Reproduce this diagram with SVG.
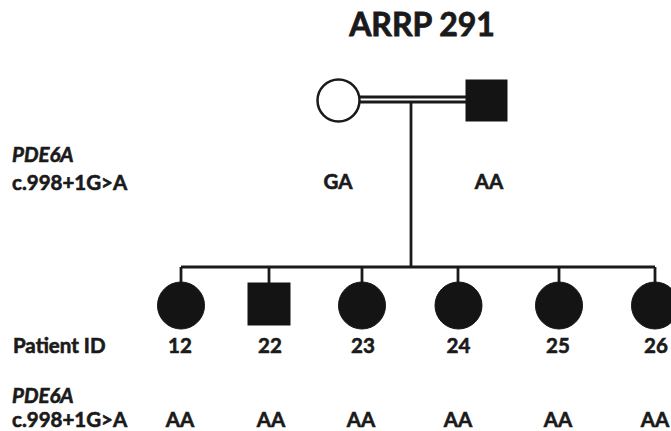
<svg xmlns="http://www.w3.org/2000/svg" width="671" height="431" viewBox="0 0 671 431">
<style>
.t{font-family:Lato,"Open Sans","Liberation Sans",sans-serif;font-weight:bold;fill:#1a1a1a;stroke:#1a1a1a;stroke-width:0.6;font-size:20.5px}
.c{text-anchor:middle}
.i{font-style:italic}
.ln{stroke:#1a1a1a;stroke-width:2.8;fill:none}
.aff{fill:#141414;stroke:#141414;stroke-width:1}
</style>
<rect width="671" height="431" fill="#fff"/>
<text class="t c" x="422" y="36" style="font-size:32px;stroke-width:0.8">ARRP 291</text>
<g id="connectors">
<line class="ln" x1="360" y1="97" x2="466" y2="97" stroke-width="2.2"/>
<line class="ln" x1="360" y1="102" x2="466" y2="102" stroke-width="2.2"/>
<line class="ln" x1="411" y1="102" x2="411" y2="267"/>
<line class="ln" x1="181" y1="267" x2="655" y2="267"/>
<line class="ln" x1="181" y1="267" x2="181" y2="283"/>
<line class="ln" x1="269" y1="267" x2="269" y2="284"/>
<line class="ln" x1="362" y1="267" x2="362" y2="283"/>
<line class="ln" x1="458" y1="267" x2="458" y2="283"/>
<line class="ln" x1="559" y1="267" x2="559" y2="283"/>
<line class="ln" x1="655" y1="267" x2="655" y2="283"/>
</g>
<g id="mother"><circle cx="338.5" cy="100.5" r="21" fill="#fff" stroke="#1a1a1a" stroke-width="2.5"/><text class="t c" x="338" y="189">GA</text></g>
<g id="father"><rect class="aff" x="466" y="80" width="41" height="41"/><text class="t c" x="489" y="189">AA</text></g>
<g id="p12"><circle class="aff" cx="181" cy="305.5" r="23.5"/><text class="t c" x="180" y="353">12</text><text class="t c" x="180" y="427">AA</text></g>
<g id="p22"><rect class="aff" x="248" y="283" width="42" height="42"/><text class="t c" x="270" y="353">22</text><text class="t c" x="271" y="427">AA</text></g>
<g id="p23"><circle class="aff" cx="362" cy="305.5" r="23.5"/><text class="t c" x="363" y="353">23</text><text class="t c" x="361" y="427">AA</text></g>
<g id="p24"><circle class="aff" cx="458.5" cy="305.5" r="23.5"/><text class="t c" x="458.5" y="353">24</text><text class="t c" x="458" y="427">AA</text></g>
<g id="p25"><circle class="aff" cx="559" cy="305.5" r="23.5"/><text class="t c" x="558" y="353">25</text><text class="t c" x="558" y="427">AA</text></g>
<g id="p26"><circle class="aff" cx="655" cy="305.5" r="23.5"/><text class="t c" x="656" y="353">26</text><text class="t c" x="655" y="427">AA</text></g>
<g id="labels">
<text class="t i" x="12" y="162">PDE6A</text>
<text class="t" x="12" y="190">c.998+1G&gt;A</text>
<text class="t" x="13" y="353">Patient ID</text>
<text class="t i" x="12" y="403">PDE6A</text>
<text class="t" x="12" y="427">c.998+1G&gt;A</text>
</g>
</svg>
